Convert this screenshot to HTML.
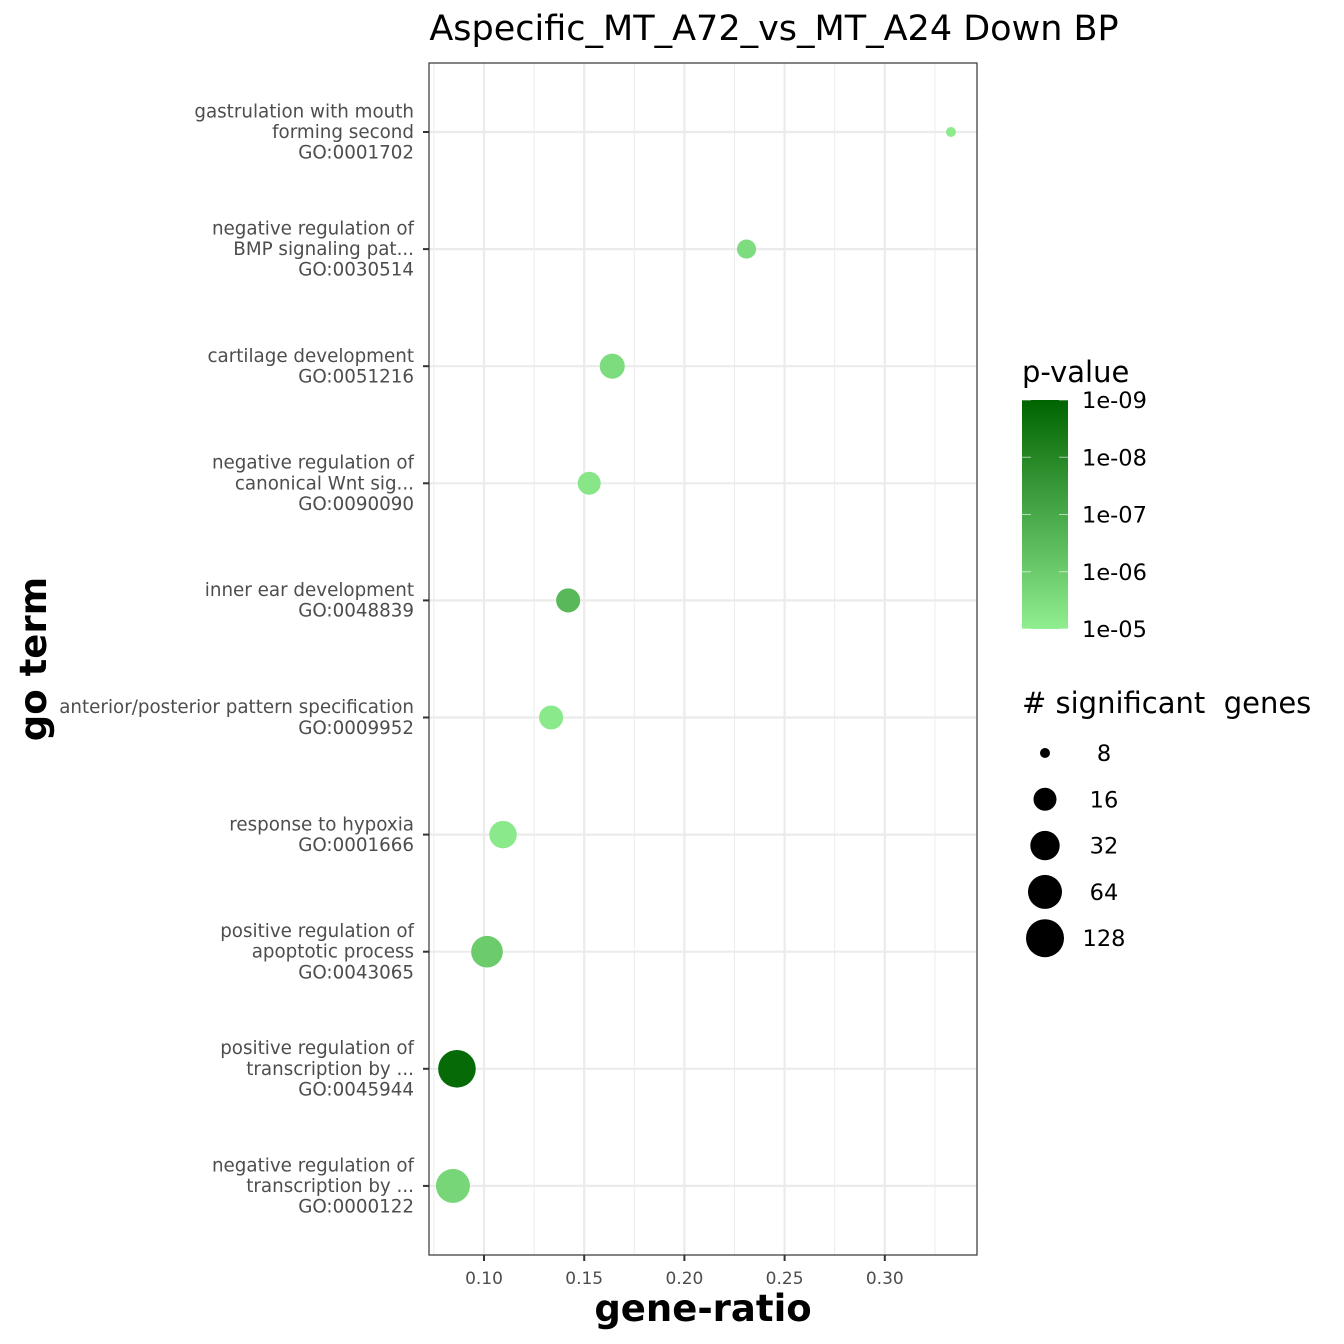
<!DOCTYPE html>
<html><head><meta charset="utf-8"><style>
body{margin:0;background:#fff}
svg{display:block;font-family:"DejaVu Sans","Liberation Sans",sans-serif}
text{white-space:pre}
</style></head><body>
<svg id="c" width="1344" height="1344" xmlns="http://www.w3.org/2000/svg">
<defs><linearGradient id="pg" x1="0" y1="1" x2="0" y2="0">
<stop offset="0" stop-color="#90EE90"/><stop offset="1" stop-color="#006400"/></linearGradient></defs>
</svg>
<script>
const terms=[["gastrulation with mouth","forming second","GO:0001702"],["negative regulation of","BMP signaling pat...","GO:0030514"],["cartilage development","GO:0051216"],["negative regulation of","canonical Wnt sig...","GO:0090090"],["inner ear development","GO:0048839"],["anterior/posterior pattern specification","GO:0009952"],["response to hypoxia","GO:0001666"],["positive regulation of","apoptotic process","GO:0043065"],["positive regulation of","transcription by ...","GO:0045944"],["negative regulation of","transcription by ...","GO:0000122"]];
const geneRatio=[0.333,0.231,0.164,0.1525,0.142,0.1335,0.1095,0.1015,0.0865,0.0845];
const geneCount=[8,13,20,16,18,18,26,45,120,64];
const pValue=[8e-6,3e-6,3e-6,6e-6,3e-7,7e-6,7e-6,1e-6,1.5e-9,2e-6];
const xTicks=[0.10,0.15,0.20,0.25,0.30];
const xTickLabels=["0.10","0.15","0.20","0.25","0.30"];
const pTicks=[1e-9,1e-8,1e-7,1e-6,1e-5];
const pTickLabels=["1e-09","1e-08","1e-07","1e-06","1e-05"];
const sizeBreaks=[8,16,32,64,128];
const sizeRadii=[5,11.5,14.7,17,19];

const svg=document.getElementById('c');const NS='http://www.w3.org/2000/svg';
function mk(t,a,p){const e=document.createElementNS(NS,t);for(const k in a)e.setAttribute(k,a[k]);(p||svg).appendChild(e);return e;}
const PL=429,PR=977,PT=63,PB=1255;
const xs=v=>484+(v-0.10)*2004;
const ys=i=>132+i*117.1;
function rs(n){const l=Math.log2(n),L=sizeBreaks.map(Math.log2);
 if(l<=L[0])return sizeRadii[0]*Math.sqrt(n/sizeBreaks[0]);
 for(let i=1;i<L.length;i++)if(l<=L[i]){const t=(l-L[i-1])/(L[i]-L[i-1]);return sizeRadii[i-1]+t*(sizeRadii[i]-sizeRadii[i-1]);}
 return sizeRadii[4];}
function col(p){let t=(-5-Math.log10(p))/4;t=Math.max(0,Math.min(1,t));
 const a=[0x90,0xEE,0x90],b=[0x00,0x64,0x00];return 'rgb('+a.map((v,i)=>Math.round(v+(b[i]-v)*t)).join(',')+')';}

let e=mk('rect',{x:PL,y:PT,width:PR-PL,height:PB-PT,fill:'#fff'});

for(let i=0;i<xTicks.length+1;i++){const v=0.075+i*0.05;const x=xs(v);if(x>PL&&x<PR){e=mk('line',{x1:x,x2:x,y1:PT,y2:PB,stroke:'#ebebeb','stroke-width':1});}}
xTicks.forEach((v,i)=>{const x=xs(v);
 e=mk('line',{x1:x,x2:x,y1:PT,y2:PB,stroke:'#ebebeb','stroke-width':2.2});
 e=mk('line',{x1:x,x2:x,y1:PB,y2:PB+6,stroke:'#333','stroke-width':2});
 e=mk('text',{x:x,y:PB+29,'text-anchor':'middle','font-size':17,fill:'#4d4d4d'});e.textContent=xTickLabels[i];});
terms.forEach((lines,i)=>{const y=ys(i);
 e=mk('line',{x1:PL,x2:PR,y1:y,y2:y,stroke:'#ebebeb','stroke-width':2.2});
 e=mk('line',{x1:PL-6,x2:PL,y1:y,y2:y,stroke:'#333','stroke-width':2});
 const n=lines.length;lines.forEach((s,j)=>{const ty=y+6+(j-(n-1)/2)*20.6;
  e=mk('text',{x:414,y:ty,'text-anchor':'end','font-size':18.3,fill:'#4d4d4d'});e.textContent=s;});});
geneRatio.forEach((v,i)=>{e=mk('circle',{cx:xs(v),cy:ys(i),r:rs(geneCount[i]),fill:col(pValue[i])});});
e=mk('rect',{x:PL,y:PT,width:PR-PL,height:PB-PT,fill:'none',stroke:'#333','stroke-width':1.2});
e=mk('text',{x:774,y:40,'text-anchor':'middle','font-size':35,fill:'#000'});e.textContent='Aspecific_MT_A72_vs_MT_A24 Down BP';
e=mk('text',{x:703,y:1321,'text-anchor':'middle','font-size':37,'font-weight':'bold',fill:'#000'});e.textContent='gene-ratio';
e=mk('text',{x:0,y:0,'text-anchor':'middle','font-size':37,'font-weight':'bold',fill:'#000',transform:'translate(46,659) rotate(-90)'});e.textContent='go term';
e=mk('text',{x:1022,y:382,'font-size':29,fill:'#000'});e.textContent='p-value';
e=mk('rect',{x:1022,y:400,width:46,height:229,fill:'url(#pg)'});
const cy=p=>400+(-9-Math.log10(p))/-4*229;
pTicks.forEach((p,i)=>{const y=cy(p);
 e=mk('line',{x1:1022,x2:1031,y1:y,y2:y,stroke:'#fff','stroke-opacity':0.6});
 e=mk('line',{x1:1059,x2:1068,y1:y,y2:y,stroke:'#fff','stroke-opacity':0.6});
 e=mk('text',{x:1082,y:y+8,'font-size':22.5,fill:'#000'});e.textContent=pTickLabels[i];});
e=mk('text',{x:1022,y:713,'font-size':29,fill:'#000'});e.textContent='# significant  genes';
sizeBreaks.forEach((n,i)=>{const y=753+i*46.3;
 e=mk('circle',{cx:1045,cy:y,r:rs(n),fill:'#000'});
 e=mk('text',{x:1104,y:y+8,'text-anchor':'middle','font-size':22.5,fill:'#000'});e.textContent=String(n);});
</script>
</body></html>
